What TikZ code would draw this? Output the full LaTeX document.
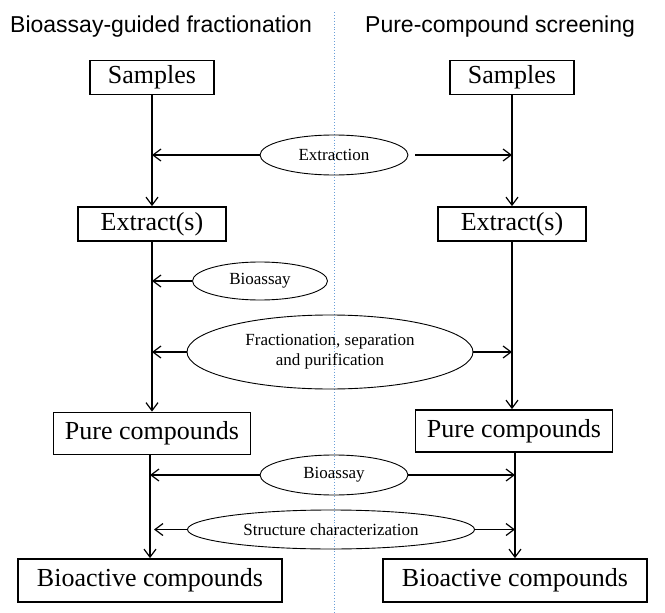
\documentclass[tikz,border=0pt]{standalone}
\usepackage{fontspec}
\setmainfont{Liberation Serif}
\newfontfamily\headfont{Liberation Sans}
\usepackage{tikz}
\usetikzlibrary{arrows.meta,shapes.geometric,positioning}
\definecolor{divblue}{HTML}{6A9FD8}

\begin{document}
\begin{tikzpicture}[x=1pt, y=-1pt,
  box/.style={draw, line width=1.8pt, inner sep=0pt, minimum height=34pt,
    font=\fontsize{26}{30}\selectfont},
  proc/.style={ellipse, draw, line width=0.9pt, inner sep=0pt, align=center,
    font=\fontsize{17}{20}\selectfont},
  arr/.style={-{Straight Barb[length=8pt, width=12pt]}, line width=1.2pt},
  head/.style={anchor=base west, inner sep=0pt, font=\headfont\fontsize{23}{27}\selectfont},
  divider/.style={divblue, line width=0.9pt, dotted},
]
\useasboundingbox (0,0) rectangle (665,613);
% column titles and divider
\node[head] (titleL) at (10,32) {Bioassay-guided fractionation};
\node[head] (titleR) at (365,32) {Pure-compound screening};
\coordinate (divtop) at (334,12);
\coordinate (divbot) at (334,613);
\draw[divider] (divtop) -- (divbot);
% left column
\node[box, minimum width=124pt] (sampL) at (152,77.5) {Samples};
\node[box, minimum width=148pt] (extL) at (152,224) {Extract(s)};
\node[box, minimum width=197pt, minimum height=42pt] (pureL) at (152,433.5) {Pure compounds};
\node[box, minimum width=264pt, minimum height=43pt] (bioL) at (150,580.5) {Bioactive compounds};
% right column
\node[box, minimum width=124pt] (sampR) at (512,77.5) {Samples};
\node[box, minimum width=148pt] (extR) at (512,224) {Extract(s)};
\node[box, minimum width=197pt, minimum height=42pt] (pureR) at (514,431) {Pure compounds};
\node[box, minimum width=264pt, minimum height=43pt] (bioR) at (515,580.5) {Bioactive compounds};
% steps
\node[proc, minimum width=148pt, minimum height=40pt] (extraction) at (334,155) {Extraction};
\node[proc, minimum width=135pt, minimum height=38pt] (assay1) at (260,281) {Bioassay};
\node[proc, minimum width=286pt, minimum height=74pt] (fract) at (330,352) {Fractionation, separation\\and purification};
\node[proc, minimum width=148pt, minimum height=40pt] (assay2) at (334,475) {Bioassay};
\node[proc, minimum width=287pt, minimum height=39pt] (struct) at (331,529.5) {Structure characterization};
% flow down
\draw[arr] (sampL) -- (extL.north -| sampL);
\draw[arr] (extL) -- (pureL.north -| extL);
\draw[arr] (pureL.south -| bioL) -- (bioL);
\draw[arr] (sampR) -- (extR.north -| sampR);
\draw[arr] (extR) -- (pureR.north -| extR);
\draw[arr] (pureR.south -| bioR) -- (bioR);
% steps feeding the lines
\draw[arr] (extraction.west) -- (extraction.west -| sampL);
\draw[arr] ([xshift=7pt]extraction.east) -- (extraction.east -| sampR);
\draw[arr] (assay1.west) -- (assay1.west -| extL);
\draw[arr] (fract.west) -- (fract.west -| extL);
\draw[arr] (fract.east) -- (fract.east -| extR);
\draw[arr] (assay2.west) -- (assay2.west -| bioL);
\draw[arr] (assay2.east) -- (assay2.east -| bioR);
\draw[arr] (struct.west) -- ([xshift=4pt]struct.west -| bioL);
\draw[arr] (struct.east) -- (struct.east -| bioR);
\end{tikzpicture}
\end{document}
